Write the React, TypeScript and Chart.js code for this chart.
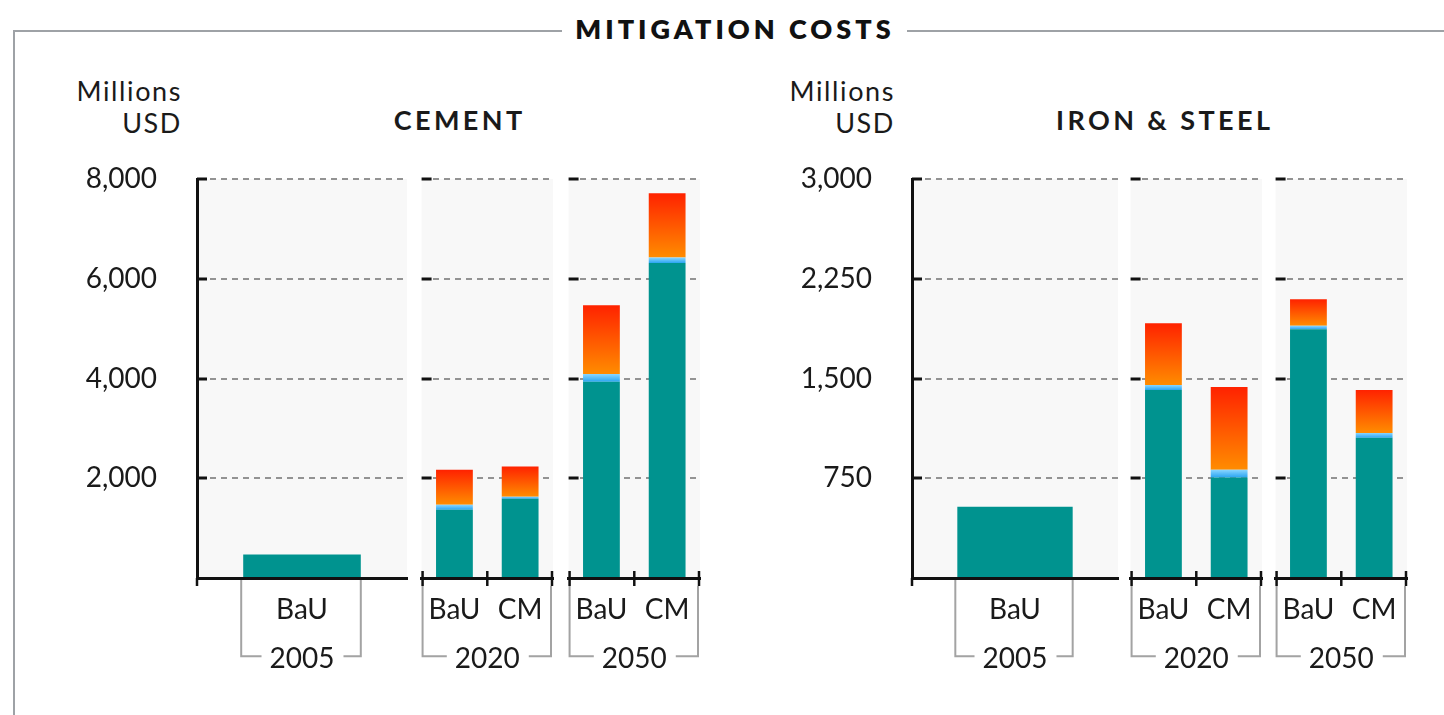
import React, { useEffect, useRef } from 'react';
import { Chart, registerables } from 'chart.js';

Chart.register(...registerables);

const FONT = 'Lato, "Open Sans", sans-serif';
Chart.defaults.font.family = FONT;
Chart.defaults.color = '#1a1a1a';

// ---------- DATA ----------
const barLabels = ['BaU', 'BaU', 'CM', 'BaU', 'CM'];
const barYears = ['2005', '2020', '2020', '2050', '2050'];
const yearGroups = ['2005', '2020', '2050'];

// Cement (millions USD)
const cementBase = [470, 1370, 1590, 3936, 6316];
const cementMid = [0, 100, 40, 154, 108];
const cementTop = [0, 700, 606, 1380, 1292];
const cementTicks = [0, 2000, 4000, 6000, 8000];

// Iron & steel (millions USD)
const steelBase = [536, 1414, 756, 1871, 1054];
const steelMid = [0, 37, 58, 25, 37];
const steelTop = [0, 465, 622, 200, 323];
const steelTicks = [0, 750, 1500, 2250, 3000];

// ---------- LAYOUT / STYLE ----------
const CANVAS_TOP = 150;
const CANVAS_BOTTOM = 700;
const AREA_TOP = 179;
const AREA_BOTTOM = 578;
const TEAL = '#00938F';
const RED_STOPS = ['#FF2200', '#FF8C00'];
const BLUE_STOPS = ['#8AD6FF', '#2AA5F2'];
const GRAY = '#939393';
const INK = '#1a1a1a';

const cementPanels = [
  { left: 197, right: 407 },
  { left: 418, right: 553 },
  { left: 565, right: 700 },
];
const steelPanels = [
  { left: 912, right: 1118 },
  { left: 1127, right: 1262 },
  { left: 1272, right: 1407 },
];

function gradientFill(stops: string[], starts: number[], values: number[], fallback: string) {
  return (c: any) => {
    if (c.type !== 'data') return fallback;
    const chart = c.chart;
    const ys = chart.scales && chart.scales.y;
    if (!ys || !chart.chartArea) return fallback;
    const i = c.dataIndex;
    const y0 = ys.getPixelForValue(starts[i]);
    const y1 = ys.getPixelForValue(starts[i] + values[i]);
    if (!isFinite(y0) || !isFinite(y1) || y0 === y1) return fallback;
    const g = chart.ctx.createLinearGradient(0, y1, 0, y0);
    g.addColorStop(0, stops[0]);
    g.addColorStop(1, stops[1]);
    return g;
  };
}

const TITLE_PAD_BOTTOM = 24;
const LABEL_SIZE = 28;

const decoPlugin = {
  id: 'panelDeco',
  beforeDraw(chart: any) {
    const { ctx, chartArea: a } = chart;
    ctx.save();
    ctx.fillStyle = '#F8F8F8';
    ctx.fillRect(a.left, a.top, a.right - a.left, a.bottom - a.top);
    ctx.restore();
  },
  afterDraw(chart: any) {
    const { ctx, chartArea: a, scales } = chart;
    const y = scales.y;
    const x = scales.x;
    const n = chart.data.labels.length;
    ctx.save();
    // inner tick marks on gridlines
    ctx.strokeStyle = '#111';
    ctx.lineWidth = 3;
    y.ticks.forEach((t: any) => {
      if (t.value === 0) return;
      const py = Math.round(y.getPixelForValue(t.value));
      ctx.beginPath();
      ctx.moveTo(a.left, py);
      ctx.lineTo(a.left + 10, py);
      ctx.stroke();
    });
    // x boundary tick marks
    ctx.lineWidth = 2.5;
    if (n === 1) {
      ctx.beginPath();
      ctx.moveTo(a.left, a.bottom);
      ctx.lineTo(a.left, a.bottom + 8);
      ctx.stroke();
    } else {
      for (let k = 0; k <= n; k++) {
        const px = Math.min(Math.max(x.getPixelForValue(k - 0.5), a.left + 1), a.right - 1);
        ctx.beginPath();
        ctx.moveTo(px, a.bottom - 7);
        ctx.lineTo(px, a.bottom + 8);
        ctx.stroke();
      }
    }
    // bracket around the year group
    const year = x.options.title.text;
    ctx.font = `${LABEL_SIZE}px ${FONT}`;
    const tw = ctx.measureText(year).width;
    const cx = (x.left + x.right) / 2;
    const by = x.bottom - TITLE_PAD_BOTTOM - (LABEL_SIZE * 1.2) / 2 - 3;
    let bl: number, br: number, topY: number;
    if (n === 1) {
      const bar = chart.getDatasetMeta(0).data[0];
      bl = bar.x - bar.width / 2 - 2;
      br = bar.x + bar.width / 2;
      topY = a.bottom + 2;
    } else {
      bl = a.left + 1;
      br = a.right - 2;
      topY = a.bottom + 8;
    }
    ctx.strokeStyle = '#a3a3a3';
    ctx.lineWidth = 2;
    ctx.beginPath();
    ctx.moveTo(cx - tw / 2 - 8, by);
    ctx.lineTo(bl, by);
    ctx.lineTo(bl, topY);
    ctx.moveTo(cx + tw / 2 + 9, by);
    ctx.lineTo(br, by);
    ctx.lineTo(br, topY);
    ctx.stroke();
    ctx.restore();
  },
};

type PanelProps = {
  year: string;
  base: number[];
  mid: number[];
  top: number[];
  ticks: number[];
  left: number;
  right: number;
  showY: boolean;
};

function Panel({ year, base, mid, top, ticks, left, right, showY }: PanelProps) {
  const ref = useRef<HTMLCanvasElement>(null);
  const padL = showY ? 140 : 6;
  const padR = 6;
  const w = right - left + padL + padR;
  const h = CANVAS_BOTTOM - CANVAS_TOP;

  useEffect(() => {
    const idx = barYears.map((y, i) => (y === year ? i : -1)).filter((i) => i >= 0);
    const labels = idx.map((i) => barLabels[i]);
    const b = idx.map((i) => base[i]);
    const m = idx.map((i) => mid[i]);
    const t = idx.map((i) => top[i]);
    const bm = b.map((v, i) => v + m[i]);
    const yMax = ticks[ticks.length - 1];

    const chart = new Chart(ref.current as HTMLCanvasElement, {
      type: 'bar',
      data: {
        labels,
        datasets: [
          { label: 'Base', data: b, backgroundColor: TEAL, borderWidth: 0 },
          { label: 'Mid', data: m, backgroundColor: gradientFill(BLUE_STOPS, b, m, '#4FBFF8') as any, borderWidth: 0 },
          { label: 'Top', data: t, backgroundColor: gradientFill(RED_STOPS, bm, t, '#FF5500') as any, borderWidth: 0 },
        ],
      },
      options: {
        responsive: false,
        animation: false,
        events: [],
        layout: { padding: { top: AREA_TOP - CANVAS_TOP, right: padR, left: 0, bottom: 0 } },
        plugins: { legend: { display: false }, tooltip: { enabled: false } },
        datasets: { bar: { barPercentage: 0.56, categoryPercentage: 1 } },
        scales: {
          x: {
            stacked: true,
            offset: true,
            grid: { display: false, drawTicks: false },
            border: { display: true, color: '#111', width: 3, z: 1 },
            ticks: { padding: 15, color: INK, font: { size: LABEL_SIZE, family: FONT } },
            title: {
              display: true,
              text: year,
              color: INK,
              font: { size: LABEL_SIZE, family: FONT },
              padding: { top: 0, bottom: TITLE_PAD_BOTTOM },
            },
            afterFit: (s: any) => {
              s.height = CANVAS_BOTTOM - AREA_BOTTOM;
            },
          },
          y: {
            stacked: true,
            min: 0,
            max: yMax,
            afterBuildTicks: (s: any) => {
              s.ticks = ticks.map((v) => ({ value: v }));
            },
            ticks: {
              display: showY,
              padding: 0,
              color: INK,
              font: { size: LABEL_SIZE, family: FONT },
              callback: (v: any) => (Number(v) === 0 ? '' : Number(v).toLocaleString('en-US')),
            },
            grid: {
              display: true,
              drawTicks: showY,
              tickLength: 40,
              tickColor: 'rgba(0,0,0,0)',
              lineWidth: 2,
              color: (c: any) => (c.tick && c.tick.value === 0 ? 'rgba(0,0,0,0)' : GRAY),
            },
            border: { display: showY, color: '#111', width: 3, dash: [6, 5] },
            afterFit: (s: any) => {
              s.width = padL;
            },
          } as any,
        },
      },
      plugins: [decoPlugin],
    });
    return () => chart.destroy();
  }, []);

  return (
    <canvas
      ref={ref}
      width={w}
      height={h}
      style={{ position: 'absolute', left: left - padL, top: CANVAS_TOP, width: w, height: h }}
    />
  );
}

type SectorProps = {
  title: string;
  titleCenter: number;
  unitRight: number;
  base: number[];
  mid: number[];
  top: number[];
  ticks: number[];
  panels: { left: number; right: number }[];
};

function Sector({ title, titleCenter, unitRight, base, mid, top, ticks, panels }: SectorProps) {
  return (
    <>
      <div
        style={{
          position: 'absolute',
          left: unitRight - 200,
          width: 200,
          top: 75,
          textAlign: 'right',
          fontFamily: FONT,
          fontSize: 27,
          lineHeight: '32px',
          color: INK,
          letterSpacing: 1.6,
        }}
      >
        Millions
        <br />
        USD
      </div>
      <div
        style={{
          position: 'absolute',
          left: titleCenter - 200,
          width: 400,
          top: 103,
          textAlign: 'center',
          fontFamily: FONT,
          fontWeight: 700,
          fontSize: 27,
          color: INK,
          letterSpacing: 3.4,
          paddingLeft: 3.4,
          boxSizing: 'border-box',
          whiteSpace: 'nowrap',
        }}
      >
        {title}
      </div>
      {yearGroups.map((yr, k) => (
        <Panel
          key={yr}
          year={yr}
          base={base}
          mid={mid}
          top={top}
          ticks={ticks}
          left={panels[k].left}
          right={panels[k].right}
          showY={k === 0}
        />
      ))}
    </>
  );
}

export default function App() {
  return (
    <div
      style={{
        position: 'absolute',
        left: 0,
        top: 0,
        width: 1444,
        height: 715,
        background: '#fff',
        overflow: 'hidden',
      }}
    >
      {/* frame */}
      <div style={{ position: 'absolute', left: 13, top: 30, width: 2, height: 700, background: '#9ea2a6' }} />
      <div style={{ position: 'absolute', left: 13, top: 30, width: 549, height: 2, background: '#9ea2a6' }} />
      <div style={{ position: 'absolute', left: 907, top: 30, width: 540, height: 2, background: '#9ea2a6' }} />
      <div
        style={{
          position: 'absolute',
          left: 533,
          width: 400,
          top: 12,
          textAlign: 'center',
          fontFamily: FONT,
          fontWeight: 800,
          fontSize: 27,
          color: '#111',
          letterSpacing: 4,
          paddingLeft: 4,
          boxSizing: 'border-box',
          whiteSpace: 'nowrap',
        }}
      >
        MITIGATION COSTS
      </div>

      <Sector
        title="CEMENT"
        titleCenter={458}
        unitRight={182}
        base={cementBase}
        mid={cementMid}
        top={cementTop}
        ticks={cementTicks}
        panels={cementPanels}
      />
      <Sector
        title="IRON & STEEL"
        titleCenter={1163}
        unitRight={895}
        base={steelBase}
        mid={steelMid}
        top={steelTop}
        ticks={steelTicks}
        panels={steelPanels}
      />
    </div>
  );
}
